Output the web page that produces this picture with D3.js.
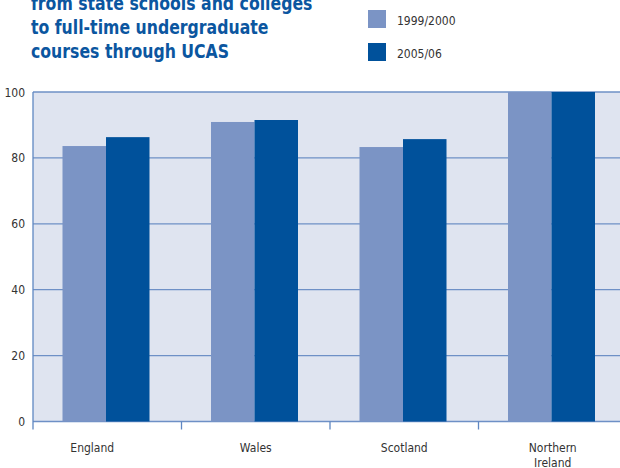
<!DOCTYPE html>
<html><head><meta charset="utf-8">
<script src="https://cdn.jsdelivr.net/npm/d3@7"></script>
<style>body{margin:0;background:#fff}svg{display:block}</style>
</head><body>
<svg id="c" width="620" height="468"></svg>
<script>
const titleLines = ["from state schools and colleges", "to full-time undergraduate", "courses through UCAS"];
const categories = ["England", "Wales", "Scotland", "Northern Ireland"];
const seriesNames = ["1999/2000", "2005/06"];
const values1999 = [83.6, 90.9, 83.3, 100];
const values2005 = [86.3, 91.5, 85.7, 100];
const yTicks = [0, 20, 40, 60, 80, 100];
const colors = ["#7b94c5", "#00519b"];

(function () {
const svg = d3.select("#c");
const pLeft = 33, pRight = 620, pTop = 92, pBottom = 421.5;
const y = d3.scaleLinear().domain([0, 100]).range([pBottom, pTop]);
const x0 = d3.scaleBand().domain(categories).range([pLeft, pLeft + 4 * 148.5]);
const x1 = d3.scaleBand().domain(seriesNames).range([29.5, 116.5]);
const label = "'DejaVu Sans Condensed', 'DejaVu Sans', sans-serif";

// title
svg.append("g").attr("transform", "translate(31,0) scale(0.92,1)")
  .selectAll("text").data(titleLines).join("text")
  .attr("x", 0).attr("y", (d, i) => 10 + i * 24)
  .attr("font-family", label).attr("font-weight", "bold").attr("font-size", 19)
  .attr("fill", "#0b56a0").text(d => d);

// legend
const lg = svg.append("g").selectAll("g").data(seriesNames).join("g")
  .attr("transform", (d, i) => `translate(368,${10 + i * 33})`);
lg.append("rect").attr("width", 18).attr("height", 18).attr("fill", (d, i) => colors[i]);
lg.append("text").attr("x", 29).attr("y", 15).attr("font-family", label)
  .attr("font-size", 12).attr("fill", "#333").text(d => d);

// plot bg
svg.append("rect").attr("x", pLeft).attr("y", pTop).attr("width", pRight - pLeft).attr("height", pBottom - pTop)
  .attr("fill", "#dfe4f0");

// grid
svg.append("g").selectAll("line").data(yTicks).join("line")
  .attr("x1", pLeft).attr("x2", pRight).attr("y1", d => y(d)).attr("y2", d => y(d))
  .attr("stroke", "#6e90c6").attr("stroke-width", 1.3);

// bars
const data = categories.map((c, i) => ({c, v: [values1999[i], values2005[i]]}));
const grp = svg.append("g").selectAll("g").data(data).join("g")
  .attr("transform", d => `translate(${x0(d.c)},0)`);
grp.selectAll("rect").data(d => d.v.map((v, i) => ({s: seriesNames[i], v, i}))).join("rect")
  .attr("x", d => x1(d.s)).attr("width", x1.bandwidth())
  .attr("y", d => y(d.v)).attr("height", d => y(0) - y(d.v))
  .attr("fill", d => colors[d.i]);

// y axis labels
svg.append("g").selectAll("text").data(yTicks).join("text")
  .attr("x", 25).attr("y", d => y(d) + 4.5).attr("text-anchor", "end")
  .attr("font-family", label).attr("font-size", 12).attr("fill", "#333").text(d => d);

// left axis line
svg.append("line").attr("x1", pLeft).attr("x2", pLeft).attr("y1", pTop).attr("y2", pBottom + 8)
  .attr("stroke", "#5f87c2").attr("stroke-width", 1.3);
// x ticks
svg.append("g").selectAll("line").data(categories.slice(1)).join("line")
  .attr("x1", d => x0(d)).attr("x2", d => x0(d)).attr("y1", pBottom).attr("y2", pBottom + 8)
  .attr("stroke", "#5f87c2").attr("stroke-width", 1.3);

// x labels
const xl = svg.append("g").selectAll("text").data(categories).join("text")
  .attr("text-anchor", "middle").attr("font-family", label).attr("font-size", 12).attr("fill", "#333")
  .attr("transform", d => `translate(${x0(d) + x0.bandwidth() / 2 - (d === categories[0] ? 15 : 0)},452)`);
xl.each(function(d) {
  const words = d === "Northern Ireland" ? ["Northern", "Ireland"] : [d];
  d3.select(this).selectAll("tspan").data(words).join("tspan")
    .attr("x", 0).attr("dy", (w, i) => i ? 15 : 0).text(w => w);
});
})();
</script>
</body></html>
